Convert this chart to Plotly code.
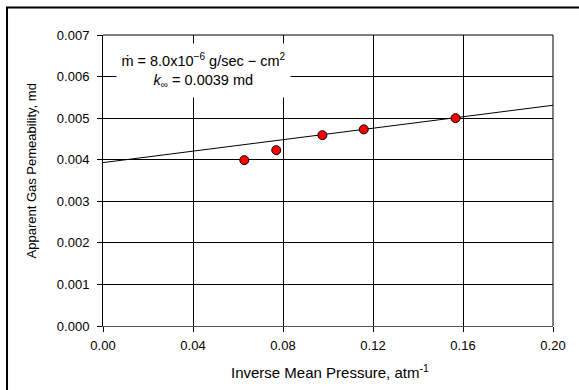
import plotly.graph_objects as go

# Data
inv_pressure = [0.0628, 0.0770, 0.0975, 0.1159, 0.1567]
k_apparent = [0.00399, 0.00423, 0.00459, 0.00473, 0.00500]

fit_x = [0.0, 0.2]
fit_y = [0.00393, 0.00531]

x_ticks = [0.00, 0.04, 0.08, 0.12, 0.16, 0.20]
y_ticks = [0.000, 0.001, 0.002, 0.003, 0.004, 0.005, 0.006, 0.007]

FONT = "Liberation Sans, Arial, sans-serif"

fig = go.Figure()
fig.add_trace(go.Scatter(x=fit_x, y=fit_y, mode="lines",
                         line=dict(color="black", width=1), showlegend=False))
fig.add_trace(go.Scatter(x=inv_pressure, y=k_apparent, mode="markers",
                         marker=dict(color="red", size=9, line=dict(color="black", width=1)),
                         showlegend=False))

fig.update_layout(
    width=579, height=390,
    margin=dict(l=103, r=26, t=35, b=64),
    paper_bgcolor="white", plot_bgcolor="white",
    font=dict(family=FONT, size=13, color="black"),
    xaxis=dict(range=[0, 0.2], tickvals=x_ticks, ticktext=[f"{v:.2f}" for v in x_ticks],
               showgrid=True, gridcolor="black", gridwidth=1,
               showline=True, linecolor="#555555", linewidth=1, mirror=False,
               ticks="outside", ticklen=5, tickcolor="black", zeroline=False,
               ticklabelstandoff=2,
               tickfont=dict(family=FONT, size=13, color="black")),
    yaxis=dict(range=[0, 0.007], tickvals=y_ticks, ticktext=[f"{v:.3f}" for v in y_ticks],
               showgrid=True, gridcolor="black", gridwidth=1,
               showline=True, linecolor="black", linewidth=1, mirror=False,
               ticks="outside", ticklen=5, tickcolor="black", zeroline=False,
               ticklabelstandoff=5,
               tickfont=dict(family=FONT, size=13, color="black")),
    shapes=[
        dict(type="rect", xref="paper", yref="paper", x0=-0.2133, x1=1.2, y0=-0.3, y1=1.0945,
             line=dict(color="black", width=2), layer="below"),
        dict(type="line", xref="paper", yref="paper", x0=0, x1=1, y0=1, y1=1,
             line=dict(color="black", width=1)),
        dict(type="line", xref="paper", yref="paper", x0=1, x1=1, y0=0, y1=1,
             line=dict(color="black", width=1)),
    ],
    annotations=[
        dict(xref="paper", yref="paper", x=0.2233, y=0.878, xanchor="center", yanchor="middle",
             text="ṁ = 8.0x10<sup>−6</sup> g/sec − cm<sup>2</sup><br><i>k</i><sub>∞</sub> = 0.0039 md",
             showarrow=False, bgcolor="white", width=173, height=53, borderpad=0,
             font=dict(family=FONT, size=14.5, color="black"), align="center"),
        dict(xref="paper", yref="paper", x=0.504, y=-0.158, xanchor="center", yanchor="middle",
             text="Inverse Mean Pressure, atm<sup>-1</sup>", showarrow=False,
             font=dict(family=FONT, size=15, color="black")),
        dict(xref="paper", yref="paper", x=-0.16, y=0.531, xanchor="center", yanchor="middle",
             text="Apparent Gas Pemeability, md", showarrow=False, textangle=-90,
             font=dict(family=FONT, size=13, color="black")),
    ],
)

fig.write_html("out.html")
